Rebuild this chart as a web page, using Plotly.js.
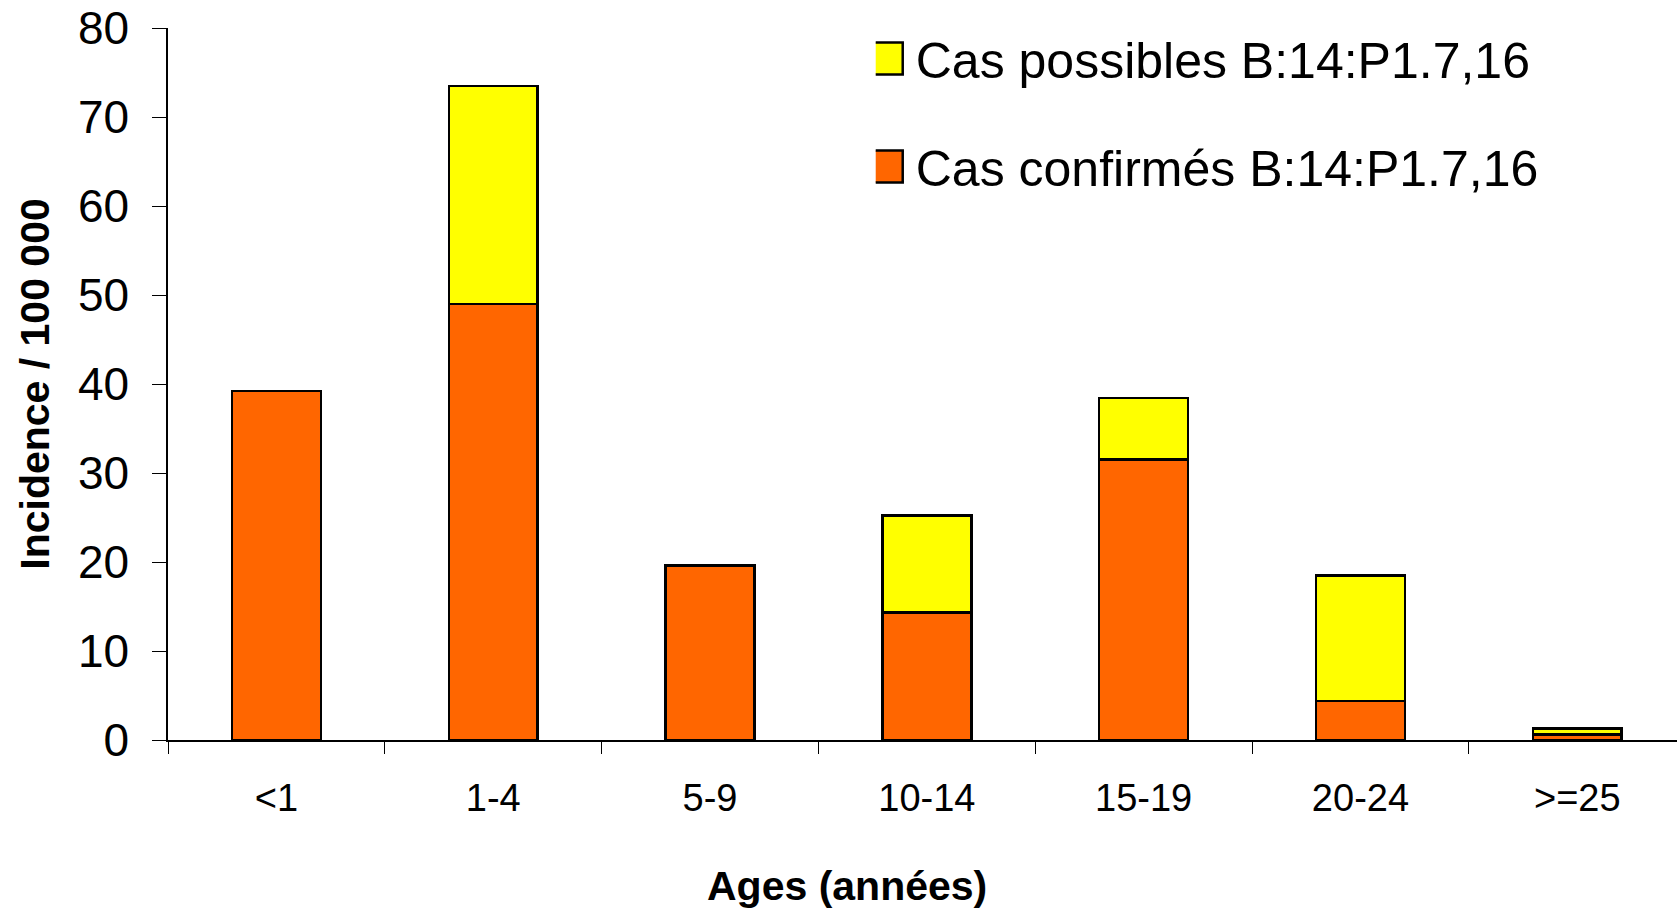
<!DOCTYPE html>
<html>
<head>
<meta charset="utf-8">
<script src="https://cdn.plot.ly/plotly-3.0.1.min.js"></script>
<style>
html,body{margin:0;padding:0;background:#fff;}
#chart{width:1677px;height:909px;}
</style>
</head>
<body>
<div id="chart"></div>
<script>
const categories = ["<1", "1-4", "5-9", "10-14", "15-19", "20-24", ">=25"];
const confirmes = [39.2, 49.0, 19.6, 14.3, 31.5, 4.4, 0.6];
const possibles = [0, 24.5, 0, 10.9, 6.9, 14.1, 0.7];
const yTicks = [0, 10, 20, 30, 40, 50, 60, 70, 80];
const xTitle = 'Ages (années)';
const yTitle = 'Incidence / 100 000';

const FONT = '"Liberation Sans", Arial, sans-serif';

const traces = [
  {
    type: 'bar', name: 'Cas confirmés B:14:P1.7,16',
    x: categories, y: confirmes, width: 0.41,
    marker: {color: '#FF6600', line: {color: '#000', width: 2.5}},
    legendgroup: 'c', legendrank: 2, hoverinfo: 'x+y'
  },
  {
    type: 'bar', name: 'Cas possibles B:14:P1.7,16',
    x: categories, y: possibles, width: 0.41,
    marker: {color: '#FFFF00', line: {color: '#000', width: 2.5}},
    legendgroup: 'p', legendrank: 1, hoverinfo: 'x+y'
  }
];

const layout = {
  width: 1677, height: 909,
  paper_bgcolor: '#fff', plot_bgcolor: '#fff',
  margin: {l: 168, r: 0, t: 28, b: 169},
  barmode: 'stack',
  font: {family: FONT, color: '#000'},
  showlegend: true,
  legend: {
    x: 0.469, y: 1.012, xanchor: 'left', yanchor: 'top',
    traceorder: 'grouped', tracegroupgap: 40,
    font: {family: FONT, size: 50, color: '#000'},
    bgcolor: 'rgba(0,0,0,0)'
  },
  xaxis: {
    type: 'category', range: [-0.5, 6.46],
    showline: true, linecolor: '#000', linewidth: 1.5,
    ticks: 'outside', tickson: 'boundaries', ticklen: 12, tickcolor: '#000', tickwidth: 1,
    tickfont: {family: FONT, size: 38, color: '#000'},
    ticklabelstandoff: 24,
    showgrid: false, zeroline: false, fixedrange: true
  },
  yaxis: {
    range: [0, 80], tickvals: yTicks,
    showline: true, linecolor: '#000', linewidth: 1.5,
    ticks: 'outside', ticklen: 14, tickcolor: '#000', tickwidth: 1,
    tickfont: {family: FONT, size: 46, color: '#000'},
    ticklabelstandoff: 14,
    showgrid: false, zeroline: false, fixedrange: true,
    title: {text: '<b>' + yTitle + '</b>', font: {family: FONT, size: 41, color: '#000'}, standoff: 16}
  },
  annotations: [{
    xref: 'paper', yref: 'paper', x: 0.45, y: -0.205, xanchor: 'center', yanchor: 'middle',
    showarrow: false, text: '<b>' + xTitle + '</b>',
    font: {family: FONT, size: 41, color: '#000'}
  }]
};

Plotly.newPlot('chart', traces, layout, {displayModeBar: false}).then(function (gd) {
  // enlarge legend swatches to match the reference's square boxes
  gd.querySelectorAll('.legend .legendpoints path').forEach(function (p) {
    p.setAttribute('d', 'M-24,-16h31v32h-31Z');
    p.style.strokeWidth = '2.5px';
    p.style.stroke = '#000';
  });
});
</script>
</body>
</html>
